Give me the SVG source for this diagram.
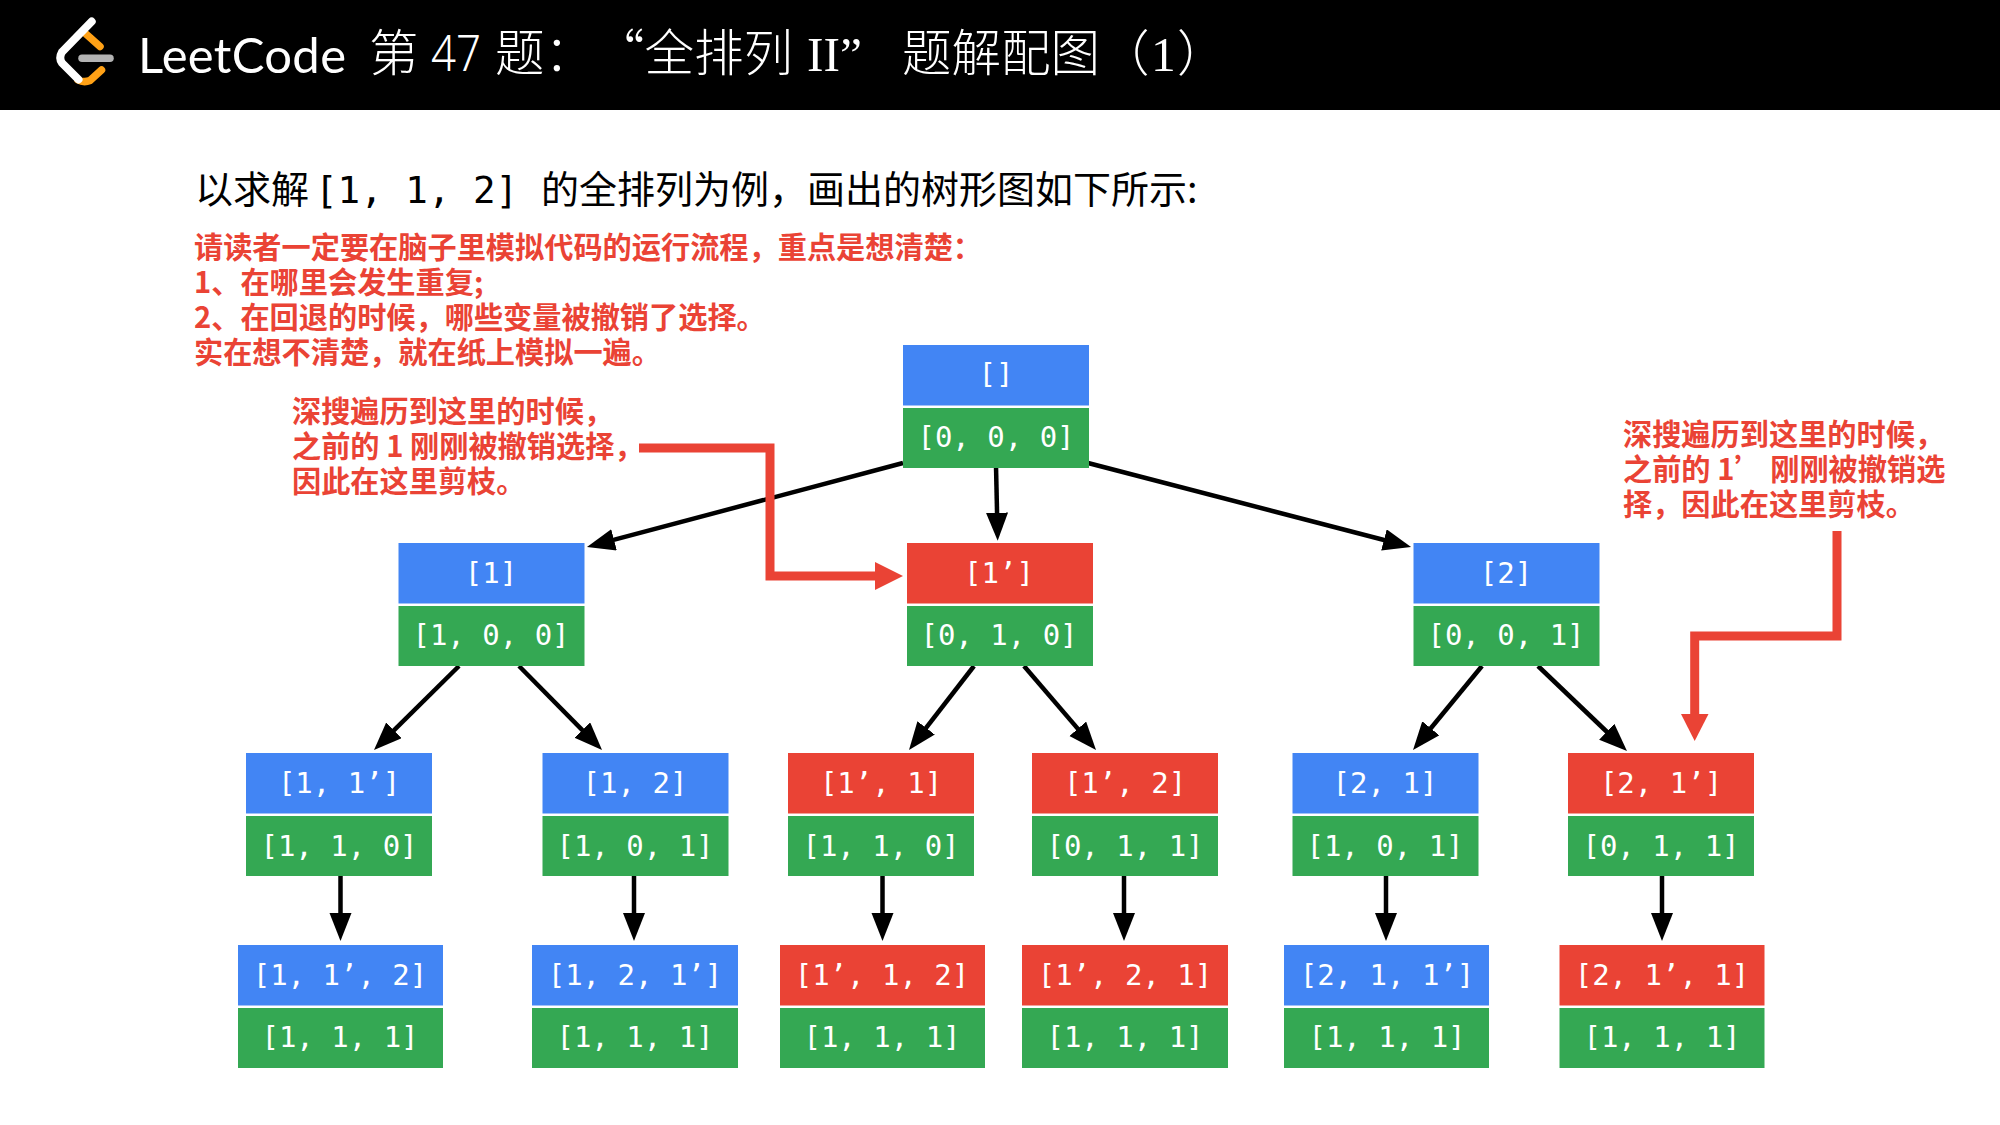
<svg xmlns="http://www.w3.org/2000/svg" width="2000" height="1125" viewBox="0 0 2000 1125">
<style>
.b{fill:#4285f4}.r{fill:#ea4335}.g{fill:#34a853}
.m{font-family:"DejaVu Sans Mono","Liberation Mono",monospace;font-size:29px;fill:#fff;text-anchor:middle}
.t{font-family:"Noto Sans CJK SC",sans-serif;font-size:49.500px;fill:#fff;font-weight:300}
.h{font-family:"Noto Sans CJK SC",sans-serif;font-size:38px;fill:#000}
.e{font-family:"Noto Sans CJK SC",sans-serif;font-size:29.200px;font-weight:700;fill:#ea4335}
.c line{stroke:#000;stroke-width:4.500;marker-end:url(#a)}
.p{fill:none;stroke:#ea4335;stroke-width:9}
</style>
<defs>
<marker id="a" markerUnits="userSpaceOnUse" markerWidth="30" markerHeight="24" refX="20" refY="11" orient="auto"><polygon points="0,0 28,11 0,22" fill="#000"/></marker>
</defs>
<rect width="2000" height="1125" fill="#fff"/>
<g id="header">
<rect width="2000" height="110" fill="#000"/>
<path d="M86 34L100 46.500M101.500 70L90 80.500Q84 83 78 80" fill="none" stroke="#ffa116" stroke-width="7.500" stroke-linecap="round" stroke-linejoin="round"/>
<path d="M82 58.300H110" fill="none" stroke="#b3b3b3" stroke-width="7.500" stroke-linecap="round"/>
<path d="M91.700 21.500L62 52Q58.500 58 62 63L78.500 79.500" fill="none" stroke="#fff" stroke-width="8" stroke-linecap="round" stroke-linejoin="round"/>
<text x="138" y="73" font-family="Lato,sans-serif" font-size="49" fill="#fff" textLength="208">LeetCode</text>
<text class="t" y="71"><tspan x="369">第</tspan><tspan x="431" font-family="Noto Sans" textLength="50" lengthAdjust="spacingAndGlyphs">47</tspan><tspan x="495">题：</tspan><tspan x="595">“全排列</tspan><tspan x="807" font-family="Liberation Serif" font-weight="400">II”</tspan><tspan x="902">题解配图（</tspan><tspan x="1151" font-family="Liberation Serif" font-weight="400">1</tspan><tspan x="1177">）</tspan></text>
</g>
<g id="intro">
<text class="h" y="203"><tspan x="195">以求解</tspan><tspan x="315" font-family="DejaVu Sans Mono" font-size="37.500">[1, 1, 2]</tspan><tspan x="541">的全排列为例，画出的树形图如下所示:</tspan></text>
<text class="e" x="194" y="258">请读者一定要在脑子里模拟代码的运行流程，重点是想清楚：</text>
<text class="e" x="194" y="293">1、在哪里会发生重复;</text>
<text class="e" x="194" y="328">2、在回退的时候，哪些变量被撤销了选择。</text>
<text class="e" x="194" y="363">实在想不清楚，就在纸上模拟一遍。</text>
</g>
<g id="note-left"><text class="e" x="292" y="422">深搜遍历到这里的时候，</text><text class="e" x="292" y="457">之前的 1 刚刚被撤销选择，</text><text class="e" x="292" y="492">因此在这里剪枝。</text></g>
<g id="note-right"><text class="e" x="1623" y="445">深搜遍历到这里的时候，</text><text class="e" x="1623" y="480">之前的 1’ 刚刚被撤销选</text><text class="e" x="1623" y="515">择，因此在这里剪枝。</text></g>
<g class="c" id="connectors">
<line x1="903" y1="463" x2="594.7" y2="544.9"/>
<line x1="996" y1="466" x2="997.5" y2="532.7"/>
<line x1="1088" y1="463" x2="1403.3" y2="545"/>
<line x1="459" y1="666" x2="379.7" y2="744.4"/>
<line x1="519" y1="666" x2="596.4" y2="744.3"/>
<line x1="974" y1="666" x2="913.9" y2="743.7"/>
<line x1="1024" y1="666" x2="1090.8" y2="743.9"/>
<line x1="1482" y1="666" x2="1418.1" y2="743.8"/>
<line x1="1538" y1="666" x2="1621.2" y2="745.5"/>
<line x1="340.5" y1="876" x2="340.5" y2="933"/>
<line x1="634" y1="876" x2="634" y2="933"/>
<line x1="882.5" y1="876" x2="882.5" y2="933"/>
<line x1="1124" y1="876" x2="1124" y2="933"/>
<line x1="1386" y1="876" x2="1386" y2="933"/>
<line x1="1662" y1="876" x2="1662" y2="933"/>
<path class="p" d="M639 448H770V576H880"/>
<polygon points="875,562 903,576 875,590" fill="#ea4335"/>
<path class="p" d="M1837 531V636H1694.700V716"/>
<polygon points="1681,714 1708.500,714 1694.700,741" fill="#ea4335"/>
</g>
<g id="n0"><rect class="b" x="903" y="345" width="186" height="60.500"/><rect class="g" x="903" y="408" width="186" height="60"/><text class="m" x="996" y="384">[]</text><text class="m" x="996" y="447">[0, 0, 0]</text></g>
<g id="n1"><rect class="b" x="398.500" y="543" width="186" height="60.500"/><rect class="g" x="398.500" y="606" width="186" height="60"/><text class="m" x="491" y="583">[1]</text><text class="m" x="491" y="645">[1, 0, 0]</text></g>
<g id="n2"><rect class="r" x="907" y="543" width="186" height="60.500"/><rect class="g" x="907" y="606" width="186" height="60"/><text class="m" x="999" y="583">[1’]</text><text class="m" x="999" y="645">[0, 1, 0]</text></g>
<g id="n3"><rect class="b" x="1413.500" y="543" width="186" height="60.500"/><rect class="g" x="1413.500" y="606" width="186" height="60"/><text class="m" x="1506" y="583">[2]</text><text class="m" x="1506" y="645">[0, 0, 1]</text></g>
<g id="n4"><rect class="b" x="246" y="753" width="186" height="60.500"/><rect class="g" x="246" y="816" width="186" height="60"/><text class="m" x="339" y="793">[1, 1’]</text><text class="m" x="339" y="856">[1, 1, 0]</text></g>
<g id="n5"><rect class="b" x="542.500" y="753" width="186" height="60.500"/><rect class="g" x="542.500" y="816" width="186" height="60"/><text class="m" x="635" y="793">[1, 2]</text><text class="m" x="635" y="856">[1, 0, 1]</text></g>
<g id="n6"><rect class="r" x="788" y="753" width="186" height="60.500"/><rect class="g" x="788" y="816" width="186" height="60"/><text class="m" x="881" y="793">[1’, 1]</text><text class="m" x="881" y="856">[1, 1, 0]</text></g>
<g id="n7"><rect class="r" x="1032" y="753" width="186" height="60.500"/><rect class="g" x="1032" y="816" width="186" height="60"/><text class="m" x="1125" y="793">[1’, 2]</text><text class="m" x="1125" y="856">[0, 1, 1]</text></g>
<g id="n8"><rect class="b" x="1292.500" y="753" width="186" height="60.500"/><rect class="g" x="1292.500" y="816" width="186" height="60"/><text class="m" x="1385" y="793">[2, 1]</text><text class="m" x="1385" y="856">[1, 0, 1]</text></g>
<g id="n9"><rect class="r" x="1568" y="753" width="186" height="60.500"/><rect class="g" x="1568" y="816" width="186" height="60"/><text class="m" x="1661" y="793">[2, 1’]</text><text class="m" x="1661" y="856">[0, 1, 1]</text></g>
<g id="n10"><rect class="b" x="238" y="945" width="205" height="60.500"/><rect class="g" x="238" y="1008" width="205" height="60"/><text class="m" x="340" y="985">[1, 1’, 2]</text><text class="m" x="340" y="1047">[1, 1, 1]</text></g>
<g id="n11"><rect class="b" x="532" y="945" width="206" height="60.500"/><rect class="g" x="532" y="1008" width="206" height="60"/><text class="m" x="635" y="985">[1, 2, 1’]</text><text class="m" x="635" y="1047">[1, 1, 1]</text></g>
<g id="n12"><rect class="r" x="780" y="945" width="205" height="60.500"/><rect class="g" x="780" y="1008" width="205" height="60"/><text class="m" x="882" y="985">[1’, 1, 2]</text><text class="m" x="882" y="1047">[1, 1, 1]</text></g>
<g id="n13"><rect class="r" x="1022" y="945" width="206" height="60.500"/><rect class="g" x="1022" y="1008" width="206" height="60"/><text class="m" x="1125" y="985">[1’, 2, 1]</text><text class="m" x="1125" y="1047">[1, 1, 1]</text></g>
<g id="n14"><rect class="b" x="1284" y="945" width="205" height="60.500"/><rect class="g" x="1284" y="1008" width="205" height="60"/><text class="m" x="1387" y="985">[2, 1, 1’]</text><text class="m" x="1387" y="1047">[1, 1, 1]</text></g>
<g id="n15"><rect class="r" x="1559.500" y="945" width="205" height="60.500"/><rect class="g" x="1559.500" y="1008" width="205" height="60"/><text class="m" x="1662" y="985">[2, 1’, 1]</text><text class="m" x="1662" y="1047">[1, 1, 1]</text></g>
</svg>
